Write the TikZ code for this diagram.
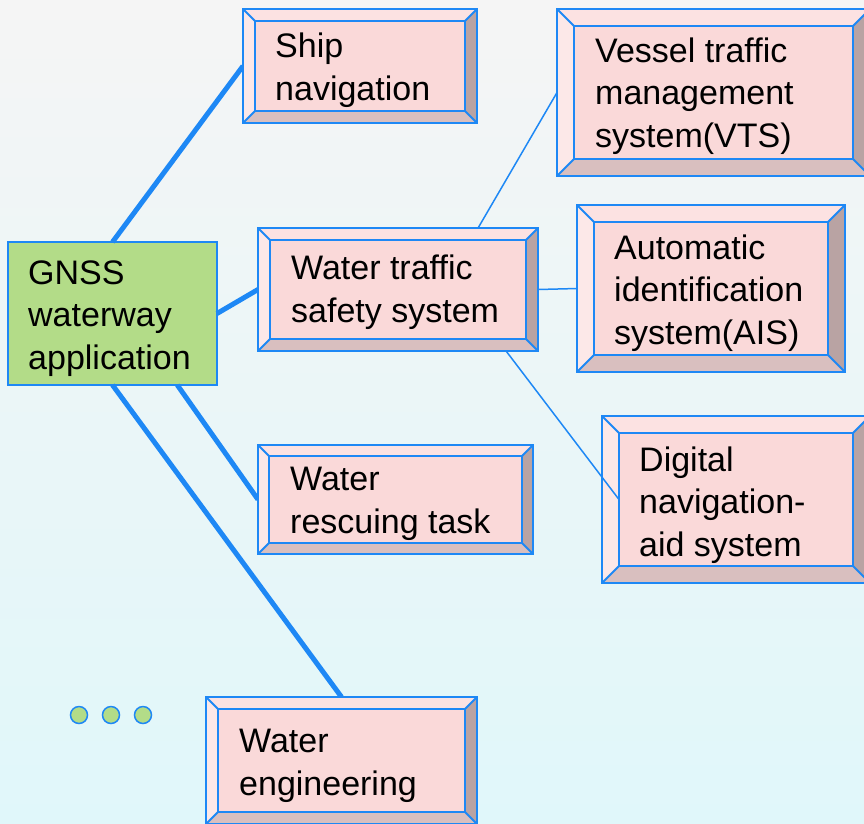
\documentclass[tikz,border=0pt]{standalone}
\usepackage{fontspec}
\setmainfont{Liberation Sans}
\usetikzlibrary{calc}
\definecolor{bgtop}{HTML}{F5F5F5}
\definecolor{bgmid}{HTML}{EFF3F3}
\definecolor{bgbot}{HTML}{E0F7FA}
\definecolor{lineblue}{HTML}{1E88F5}
\definecolor{gnssgreen}{HTML}{B3DC88}
\definecolor{faceinner}{HTML}{FAD9D9}
\definecolor{facetop}{HTML}{FCE2E2}
\definecolor{faceleft}{HTML}{FCE8E8}
\definecolor{faceright}{HTML}{B9A3A3}
\definecolor{facebottom}{HTML}{D9BFBF}
\tikzset{
  thickconn/.style={draw=lineblue, line width=5pt},
  thinconn/.style={draw=lineblue, line width=1.5pt},
  edge/.style={draw=lineblue, line width=2pt, line join=miter},
  txt/.style={font=\fontsize{34}{42.5}\selectfont, align=left, inner sep=0pt, text=black},
  frame/.style={inner sep=0pt, outer sep=0pt, anchor=north west},
  dotnode/.style={circle, draw=lineblue, line width=1.5pt, fill=gnssgreen, minimum size=17pt, inner sep=0pt}
}
% name, x1, y1, x2, y2, inset
\newcommand{\bevelbox}[6]{%
  \node[frame, minimum width={#4-#2}, minimum height={#5-#3}] (#1) at (#2,#3) {};
  \node[frame, minimum width={#4-#2-2*#6}, minimum height={#5-#3-2*#6}] (#1-in) at ({#2+#6},{#3+#6}) {};
  \fill[facetop] (#1.north west) -- (#1.north east) -- (#1-in.north east) -- (#1-in.north west) -- cycle;
  \fill[faceleft] (#1.north west) -- (#1-in.north west) -- (#1-in.south west) -- (#1.south west) -- cycle;
  \fill[faceright] (#1.north east) -- (#1.south east) -- (#1-in.south east) -- (#1-in.north east) -- cycle;
  \fill[facebottom] (#1.south west) -- (#1.south east) -- (#1-in.south east) -- (#1-in.south west) -- cycle;
  \fill[faceinner] (#1-in.north west) rectangle (#1-in.south east);
  \draw[edge] (#1.north west) rectangle (#1.south east);
  \draw[edge] (#1-in.north west) rectangle (#1-in.south east);
  \draw[edge] (#1.north west) -- (#1-in.north west);
  \draw[edge] (#1.north east) -- (#1-in.north east);
  \draw[edge] (#1.south west) -- (#1-in.south west);
  \draw[edge] (#1.south east) -- (#1-in.south east);
}
\begin{document}
\begin{tikzpicture}[x=1pt,y=-1pt]
\useasboundingbox (0,0) rectangle (864,823);
\clip (0,0) rectangle (864,823);
\shade[top color=bgtop, middle color=bgmid, bottom color=bgbot] (0,0) rectangle (864,823);

% root node
\node[frame, minimum width=209, minimum height=143, draw=lineblue, line width=2pt, fill=gnssgreen] (gnss) at (8,242) {};
\node[txt, anchor=base west] (gnss-t) at (28,369) {GNSS\\waterway\\application};

% nodes geometry (for connectors)
\node[frame, minimum width=234, minimum height=114] (ship) at (243,9) {};
\node[frame, minimum width=280, minimum height=123] (wt) at (258,228) {};
\node[frame, minimum width=275, minimum height=109] (resc) at (258,445) {};
\node[frame, minimum width=271, minimum height=127] (eng) at (206,697) {};
\node[frame, minimum width=313, minimum height=167] (vts) at (557,9) {};
\node[frame, minimum width=268, minimum height=167] (ais) at (577,205) {};

% thick connectors
\draw[thickconn] (gnss.north) -- (ship.west);
\draw[thickconn] (gnss.east) -- (wt.west);
\draw[thickconn] ($(gnss.south west)!0.81!(gnss.south east)$) -- (resc.west);
\draw[thickconn] (gnss.south) -- (eng.north);
% thin connectors
\draw[thinconn] ($(wt.north west)!0.786!(wt.north east)$) -- (vts.west);
\draw[thinconn] (wt.east) -- (ais.west);

% boxes
\bevelbox{ship}{243}{9}{477}{123}{12}
\node[txt, anchor=base west] (ship-t) at (275,100) {Ship\\navigation};
\bevelbox{vts}{557}{9}{870}{176}{17}
\node[txt, anchor=base west] (vts-t) at (595,147) {Vessel traffic\\management\\system(VTS)};
\bevelbox{wt}{258}{228}{538}{351}{12}
\node[txt, anchor=base west] (wt-t) at (291,322) {Water traffic\\safety system};
\bevelbox{ais}{577}{205}{845}{372}{17}
\node[txt, anchor=base west] (ais-t) at (614,344) {Automatic\\identification\\system(AIS)};
\bevelbox{resc}{258}{445}{533}{554}{11}
\node[txt, anchor=base west] (resc-t) at (290,533) {Water\\rescuing task};
\bevelbox{dig}{602}{416}{870}{583}{17}
\node[txt, anchor=base west] (dig-t) at (639,556) {Digital\\navigation-\\aid system};
\bevelbox{eng}{206}{697}{477}{824}{12}
\node[txt, anchor=base west] (eng-t) at (239,795) {Water\\engineering};

% connector drawn over the digital box
\draw[thinconn] ($(wt.south west)!0.886!(wt.south east)$) -- (dig-in.west);

% ellipsis dots
\node[dotnode] (d1) at (79,715) {};
\node[dotnode] (d2) at (111,715) {};
\node[dotnode] (d3) at (143,715) {};
\end{tikzpicture}
\end{document}
